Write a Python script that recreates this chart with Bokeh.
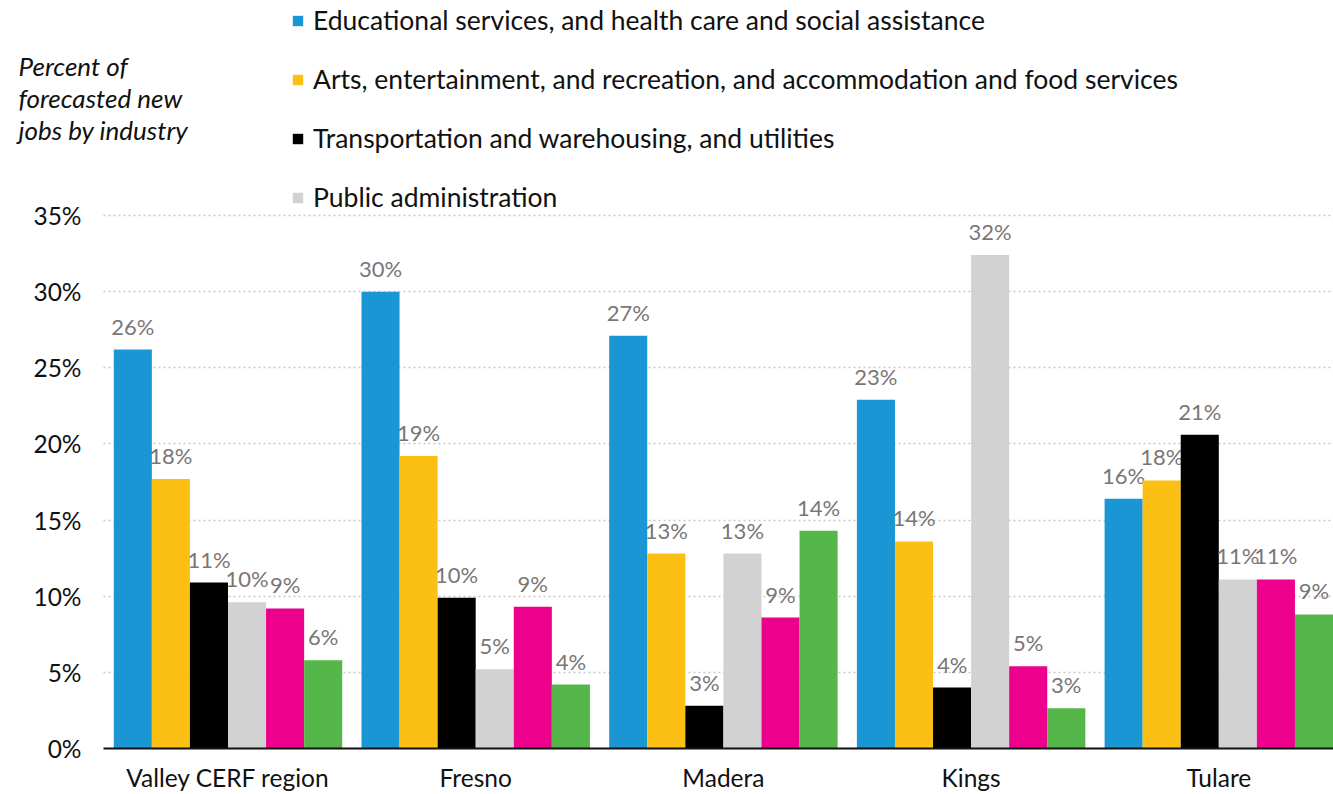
from bokeh.plotting import figure
from bokeh.models import (ColumnDataSource, Range1d, FixedTicker, Legend, LegendItem,
                          Label, LinearAxis, Grid, BoxAnnotation)
from bokeh.transform import dodge
from bokeh.core.properties import value
from bokeh.embed import file_html
from bokeh.resources import INLINE

regions = ["Valley CERF region", "Fresno", "Madera", "Kings", "Tulare"]
series_names = [
    "Educational services, and health care and social assistance",
    "Arts, entertainment, and recreation, and accommodation and food services",
    "Transportation and warehousing, and utilities",
    "Public administration",
    "Other industries A",
    "Other industries B",
]
educ = [26.2, 30.0, 27.1, 22.9, 16.4]
arts = [17.7, 19.2, 12.8, 13.6, 17.6]
transp = [10.9, 9.9, 2.8, 4.0, 20.6]
public = [9.6, 5.2, 12.8, 32.4, 11.1]
magenta_vals = [9.2, 9.3, 8.6, 5.4, 11.1]
green_vals = [5.8, 4.2, 14.3, 2.65, 8.8]
colors = ["#1996d3", "#fcbf14", "#000000", "#d2d2d2", "#ec008c", "#55b74a"]
y_ticks = [0, 5, 10, 15, 20, 25, 30, 35]
y_title_lines = ["Percent of", "forecasted new", "jobs by industry"]

all_series = [educ, arts, transp, public, magenta_vals, green_vals]

FONT = "Lato"
W, H = 1333, 794
bar_w = 0.1537
PX_X = 247.7            # pixels per category
PX_Y = 15.229           # pixels per percent
X0 = -0.5026            # left end of the category axis
X_START = X0 - 103 / PX_X
X_END = 4.463
Y_START = -(H - 748) / PX_Y
Y_END = 748 / PX_Y

p = figure(width=W, height=H, output_backend="svg", toolbar_location=None,
           x_range=Range1d(X_START, X_END), y_range=Range1d(Y_START, Y_END),
           y_axis_location=None, x_axis_location=None,
           min_border_left=0, min_border_right=0, min_border_top=0, min_border_bottom=0)
p.outline_line_color = None
p.background_fill_color = "white"
p.border_fill_color = "white"
for g in p.grid:
    g.grid_line_color = None
    g.visible = False

# horizontal dotted grid lines
grid = Grid(dimension=1, ticker=FixedTicker(ticks=y_ticks[1:]),
            grid_line_color="#c8c8c8", grid_line_dash="2 3", grid_line_width=1.5)
if "cross_bounds" in Grid.properties():
    grid.cross_bounds = (X0, X_END)
    p.add_layout(grid)
else:
    p.add_layout(grid)
    p.add_layout(BoxAnnotation(right=X0, fill_color="white", fill_alpha=1.0,
                               line_color=None, level="underlay"))

renderers = []
for j, vals in enumerate(all_series):
    src = ColumnDataSource(dict(g=list(range(len(regions))), v=vals,
                                lab=[f"{round(v)}%" for v in vals]))
    off = (j - 2.5) * bar_w
    r = p.vbar(x=dodge("g", off, range=p.x_range), top="v", bottom=0, width=bar_w, source=src,
               fill_color=colors[j], line_color=None)
    renderers.append(r)
    p.text(x=dodge("g", off, range=p.x_range), y="v", text="lab", source=src,
           text_align="center", text_baseline="bottom", y_offset=-10,
           text_font=value(FONT), text_font_size="22px", text_color="#7a7676")

legend = Legend(items=[LegendItem(label=series_names[i], renderers=[renderers[i]]) for i in range(4)],
                location=(291, 535 + (H - 748)), orientation="vertical",
                label_text_font=FONT, label_text_font_size="26.5px", label_text_color="#111111",
                glyph_width=13, glyph_height=13, label_standoff=9,
                label_height=32, spacing=27, padding=0, margin=0,
                border_line_color=None, background_fill_alpha=0)
p.add_layout(legend, "center")

# y title (italic) at the top left
for k, line in enumerate(y_title_lines):
    p.add_layout(Label(x=X_START + 18 / PX_X, y=(748 - 75 + 10 - k * 32) / PX_Y, text=line,
                       text_font=FONT, text_font_style="italic", text_font_size="26px",
                       text_color="#111111", text_baseline="alphabetic", text_align="left"))

# y axis drawn at the left end of the category axis
yaxis = LinearAxis(fixed_location=X0, ticker=FixedTicker(ticks=y_ticks),
                   major_label_overrides={t: f"{t}%" for t in y_ticks},
                   axis_line_color=None, major_tick_line_color=None, minor_tick_line_color=None,
                   major_tick_out=0, major_tick_in=0, minor_tick_out=0, minor_tick_in=0,
                   major_label_standoff=22, major_label_text_font=FONT,
                   major_label_text_font_size="24.5px", major_label_text_color="#111111")
p.add_layout(yaxis, "left")

# category axis drawn at y = 0
xaxis = LinearAxis(fixed_location=0, ticker=FixedTicker(ticks=list(range(len(regions)))),
                   major_label_overrides={i: r for i, r in enumerate(regions)},
                   bounds=(X0, X_END), axis_line_color="#111111", axis_line_width=2,
                   major_tick_line_color=None, minor_tick_line_color=None,
                   major_tick_out=0, major_tick_in=0, minor_tick_out=0, minor_tick_in=0,
                   major_label_standoff=14, major_label_text_font=FONT,
                   major_label_text_font_size="24.5px", major_label_text_color="#111111")
p.add_layout(xaxis, "below")

open("out.html", "w").write(file_html(p, INLINE))
